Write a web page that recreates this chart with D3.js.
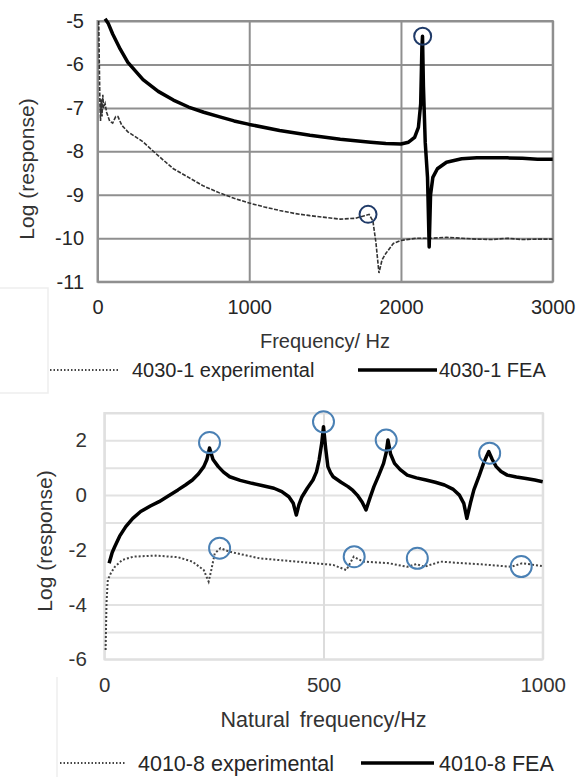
<!DOCTYPE html>
<html>
<head>
<meta charset="utf-8">
<script src="https://cdn.jsdelivr.net/npm/d3@7"></script>
<style>
  body { margin: 0; background: #fff; }
  svg text { font-family: "Liberation Sans", Arial, sans-serif; }
</style>
</head>
<body>
<div id="chart"></div>
<script>
// ---- top chart data (4030-1) ----
const topXTicks = [0, 1000, 2000, 3000];
const topYTicks = [-5, -6, -7, -8, -9, -10, -11];

const topExpHz  = [8, 12, 16, 20, 25, 30, 35, 40, 50, 60, 80, 100, 120, 135, 160, 200, 300, 400, 500, 600, 700, 800, 900, 1000, 1100, 1200, 1300, 1400, 1500, 1600, 1700, 1760, 1790, 1815, 1835, 1855, 1875, 1900, 1950, 2000, 2100, 2200, 2300, 2400, 2500, 2600, 2700, 2800, 2900, 3000];
const topExpLog = [-5.0, -6.0, -6.9, -7.3, -6.8, -7.2, -6.7, -7.0, -6.9, -7.1, -7.3, -7.35, -7.2, -7.2, -7.4, -7.55, -7.78, -8.1, -8.4, -8.6, -8.8, -8.95, -9.08, -9.19, -9.28, -9.36, -9.43, -9.48, -9.52, -9.56, -9.54, -9.48, -9.45, -9.6, -10.1, -10.8, -10.5, -10.35, -10.12, -10.05, -10.0, -10.0, -9.98, -10.0, -10.02, -10.03, -10.0, -10.03, -10.02, -10.02];

const topFeaHz  = [50, 70, 100, 150, 200, 300, 400, 500, 600, 700, 800, 900, 1000, 1200, 1400, 1600, 1800, 1900, 2000, 2050, 2090, 2115, 2130, 2138, 2142, 2148, 2160, 2175, 2186, 2195, 2210, 2240, 2300, 2400, 2500, 2600, 2700, 2800, 2900, 3000];
const topFeaLog = [-4.95, -5.05, -5.3, -5.65, -5.95, -6.35, -6.62, -6.82, -6.98, -7.1, -7.2, -7.3, -7.38, -7.52, -7.63, -7.72, -7.79, -7.82, -7.83, -7.79, -7.68, -7.45, -6.9, -5.6, -5.35, -6.5, -7.8, -8.6, -10.2, -9.0, -8.6, -8.4, -8.25, -8.17, -8.15, -8.15, -8.15, -8.16, -8.18, -8.18];

const topMarkHz  = [2143, 1783];
const topMarkLog = [-5.35, -9.45];

// ---- bottom chart data (4010-8) ----
const botXTicks = [0, 500, 1000];
const botYTicks = [-6, -5, -4, -3, -2, -1, 0, 1, 2, 3];

const botExpHz  = [3, 5, 8, 15, 24, 41, 66, 117, 168, 201, 227, 233, 238, 244, 252, 265, 286, 354, 438, 522, 552, 569, 590, 649, 691, 712, 730, 767, 818, 860, 928, 953, 998];
const botExpLog = [-5.66, -3.95, -3.1, -2.85, -2.62, -2.37, -2.25, -2.21, -2.27, -2.43, -2.74, -2.98, -3.16, -2.74, -2.13, -1.94, -2.07, -2.31, -2.43, -2.55, -2.74, -2.25, -2.43, -2.49, -2.62, -2.52, -2.62, -2.43, -2.49, -2.53, -2.62, -2.49, -2.59];

const botFeaHz  = [11, 18, 24, 35, 49, 65, 83, 105, 125, 145, 168, 185, 201, 215, 227, 234, 240, 248, 260, 272, 286, 310, 337, 362, 387, 405, 421, 431, 438, 444, 451, 463, 476, 484, 490, 496, 500, 505, 510, 516, 522, 540, 556, 567, 577, 588, 597, 606, 615, 626, 637, 643, 647, 653, 662, 675, 691, 712, 734, 755, 776, 795, 810, 820, 827, 835, 843, 855, 865, 872, 877, 885, 894, 905, 919, 940, 962, 982, 1000];
const botFeaLog = [-2.49, -2.1, -1.88, -1.5, -1.15, -0.85, -0.6, -0.4, -0.24, -0.04, 0.19, 0.37, 0.55, 0.78, 1.04, 1.3, 1.72, 1.3, 1.04, 0.84, 0.67, 0.54, 0.43, 0.34, 0.25, 0.13, -0.06, -0.3, -0.73, -0.35, -0.06, 0.25, 0.55, 0.85, 1.28, 1.9, 2.5, 1.7, 1.04, 0.82, 0.67, 0.47, 0.31, 0.17, 0.0, -0.25, -0.54, -0.1, 0.31, 0.72, 1.16, 1.55, 2.01, 1.5, 1.16, 0.93, 0.73, 0.63, 0.55, 0.47, 0.37, 0.22, 0.0, -0.3, -0.85, -0.3, 0.19, 0.7, 1.16, 1.42, 1.59, 1.3, 1.04, 0.86, 0.73, 0.66, 0.61, 0.55, 0.49];

const botMarkHz  = [240, 500, 643, 879, 263, 570, 714, 951];
const botMarkLog = [1.92, 2.68, 2.01, 1.53, -1.94, -2.25, -2.31, -2.61];

const zip = (xs, ys) => xs.map((x, i) => [x, ys[i]]);
const fmt = d => String(d);   // plain "-5", "1000" like the original

const svg = d3.select("#chart").append("svg")
    .attr("width", 583)
    .attr("height", 777);

// faint edges of the pasted screenshots
svg.append("path")
    .attr("d", "M0,288H48V393H0 M57,677V777")
    .attr("fill", "none")
    .attr("stroke", "#eeeeee")
    .attr("stroke-width", 1.5);

// ================= TOP CHART =================
const t = {left: 97.5, right: 552.7, top: 21, bottom: 281.7};
const xT = d3.scaleLinear().domain([0, 3000]).range([t.left, t.right]);
const yT = d3.scaleLinear().domain([-11, -5]).range([t.bottom, t.top]);

const gTop = svg.append("g");

gTop.append("g")
    .attr("transform", `translate(${t.left},0)`)
    .call(d3.axisLeft(yT).tickValues(topYTicks).tickFormat(fmt)
        .tickSize(-(t.right - t.left)).tickPadding(13.5))
    .call(g => g.select(".domain").remove())
    .call(g => g.selectAll("line").attr("stroke", "#8f8f8f").attr("stroke-width", 2))
    .call(g => g.selectAll("text").attr("font-size", 20).attr("fill", "#262626")
        .attr("font-family", "Liberation Sans, Arial, sans-serif"));

gTop.append("g")
    .attr("transform", `translate(0,${t.bottom})`)
    .call(d3.axisBottom(xT).tickValues(topXTicks).tickFormat(fmt)
        .tickSize(-(t.bottom - t.top)).tickPadding(18))
    .call(g => g.select(".domain").remove())
    .call(g => g.selectAll("line").attr("stroke", "#8f8f8f").attr("stroke-width", 2))
    .call(g => g.selectAll("text").attr("font-size", 20).attr("fill", "#262626")
        .attr("font-family", "Liberation Sans, Arial, sans-serif"));

gTop.append("rect")
    .attr("x", t.left).attr("y", t.top)
    .attr("width", t.right - t.left).attr("height", t.bottom - t.top)
    .attr("fill", "none").attr("stroke", "#8f8f8f").attr("stroke-width", 2);

const lineT = d3.line().x(d => xT(d[0])).y(d => yT(d[1]));

gTop.append("path")
    .attr("d", lineT(zip(topExpHz, topExpLog)))
    .attr("fill", "none")
    .attr("stroke", "#333")
    .attr("stroke-width", 1.6)
    .attr("stroke-dasharray", "4,1.5");

gTop.append("path")
    .attr("d", lineT(zip(topFeaHz, topFeaLog)))
    .attr("fill", "none")
    .attr("stroke", "#000")
    .attr("stroke-width", 3.5)
    .attr("stroke-linejoin", "round");

gTop.selectAll(".mark")
    .data(zip(topMarkHz, topMarkLog))
    .join("circle")
    .attr("cx", d => xT(d[0]))
    .attr("cy", d => yT(d[1]))
    .attr("r", 8.5)
    .attr("fill", "none")
    .attr("stroke", "#1f3a68")
    .attr("stroke-width", 2);

gTop.append("text")
    .attr("x", 325).attr("y", 348)
    .attr("text-anchor", "middle")
    .attr("font-size", 20).attr("fill", "#333")
    .text("Frequency/ Hz");

gTop.append("text")
    .attr("transform", "translate(34,169) rotate(-90)")
    .attr("text-anchor", "middle")
    .attr("font-size", 21).attr("fill", "#333")
    .text("Log (response)");

// legend
gTop.append("line")
    .attr("x1", 50).attr("x2", 119).attr("y1", 370).attr("y2", 370)
    .attr("stroke", "#444").attr("stroke-width", 2).attr("stroke-dasharray", "1.5,2");
gTop.append("text")
    .attr("x", 132).attr("y", 377)
    .attr("font-size", 20).attr("fill", "#262626")
    .text("4030-1 experimental");
gTop.append("line")
    .attr("x1", 358).attr("x2", 437).attr("y1", 370).attr("y2", 370)
    .attr("stroke", "#000").attr("stroke-width", 3.5);
gTop.append("text")
    .attr("x", 439).attr("y", 377)
    .attr("font-size", 20).attr("fill", "#262626")
    .text("4030-1 FEA");

// ================= BOTTOM CHART =================
const b = {left: 104.3, right: 542.7, top: 413, bottom: 659.3};
const xB = d3.scaleLinear().domain([0, 1000]).range([b.left, b.right]);
const yB = d3.scaleLinear().domain([-6, 3]).range([b.bottom, b.top]);

const gBot = svg.append("g");

gBot.append("g")
    .attr("transform", `translate(${b.left},0)`)
    .call(d3.axisLeft(yB).tickValues(botYTicks).tickSize(-(b.right - b.left)).tickPadding(17.5)
        .tickFormat(d => d % 2 === 0 ? fmt(d) : ""))
    .call(g => g.select(".domain").remove())
    .call(g => g.selectAll("line").attr("stroke", "#e2e2e2").attr("stroke-width", 2))
    .call(g => g.selectAll("text").attr("font-size", 20.5).attr("fill", "#333")
        .attr("font-family", "Liberation Sans, Arial, sans-serif"));

gBot.append("g")
    .attr("transform", `translate(0,${b.bottom})`)
    .call(d3.axisBottom(xB).tickValues(botXTicks).tickFormat(fmt)
        .tickSize(-(b.bottom - b.top)).tickPadding(18.5))
    .call(g => g.select(".domain").remove())
    .call(g => g.selectAll("line").attr("stroke", "#dcdcdc").attr("stroke-width", 2))
    .call(g => g.selectAll("text").attr("font-size", 20.5).attr("fill", "#333")
        .attr("font-family", "Liberation Sans, Arial, sans-serif"));

gBot.append("rect")
    .attr("x", b.left).attr("y", b.top)
    .attr("width", b.right - b.left).attr("height", b.bottom - b.top)
    .attr("fill", "none").attr("stroke", "#e0e0e0").attr("stroke-width", 2);

const lineB = d3.line().x(d => xB(d[0])).y(d => yB(d[1]));

gBot.append("path")
    .attr("d", lineB(zip(botExpHz, botExpLog)))
    .attr("fill", "none")
    .attr("stroke", "#444")
    .attr("stroke-width", 2)
    .attr("stroke-dasharray", "2,2");

gBot.append("path")
    .attr("d", lineB(zip(botFeaHz, botFeaLog)))
    .attr("fill", "none")
    .attr("stroke", "#000")
    .attr("stroke-width", 3.5)
    .attr("stroke-linejoin", "round");

gBot.selectAll(".mark")
    .data(zip(botMarkHz, botMarkLog))
    .join("circle")
    .attr("cx", d => xB(d[0]))
    .attr("cy", d => yB(d[1]))
    .attr("r", 10.5)
    .attr("fill", "none")
    .attr("stroke", "#4a80b4")
    .attr("stroke-width", 2);

gBot.append("text")
    .attr("x", 323.5).attr("y", 727)
    .attr("text-anchor", "middle")
    .attr("font-size", 21.5).attr("fill", "#333")
    .attr("word-spacing", 4)
    .text("Natural frequency/Hz");

gBot.append("text")
    .attr("transform", "translate(52,541) rotate(-90)")
    .attr("text-anchor", "middle")
    .attr("font-size", 21).attr("fill", "#333")
    .text("Log (response)");

gBot.append("line")
    .attr("x1", 60).attr("x2", 126).attr("y1", 763).attr("y2", 763)
    .attr("stroke", "#444").attr("stroke-width", 2).attr("stroke-dasharray", "1.5,2");
gBot.append("text")
    .attr("x", 138).attr("y", 770.5)
    .attr("font-size", 21.5).attr("fill", "#262626")
    .text("4010-8 experimental");
gBot.append("line")
    .attr("x1", 361).attr("x2", 434).attr("y1", 763).attr("y2", 763)
    .attr("stroke", "#000").attr("stroke-width", 3.5);
gBot.append("text")
    .attr("x", 439).attr("y", 770.5)
    .attr("font-size", 21.5).attr("fill", "#262626")
    .text("4010-8 FEA");
</script>
</body>
</html>
